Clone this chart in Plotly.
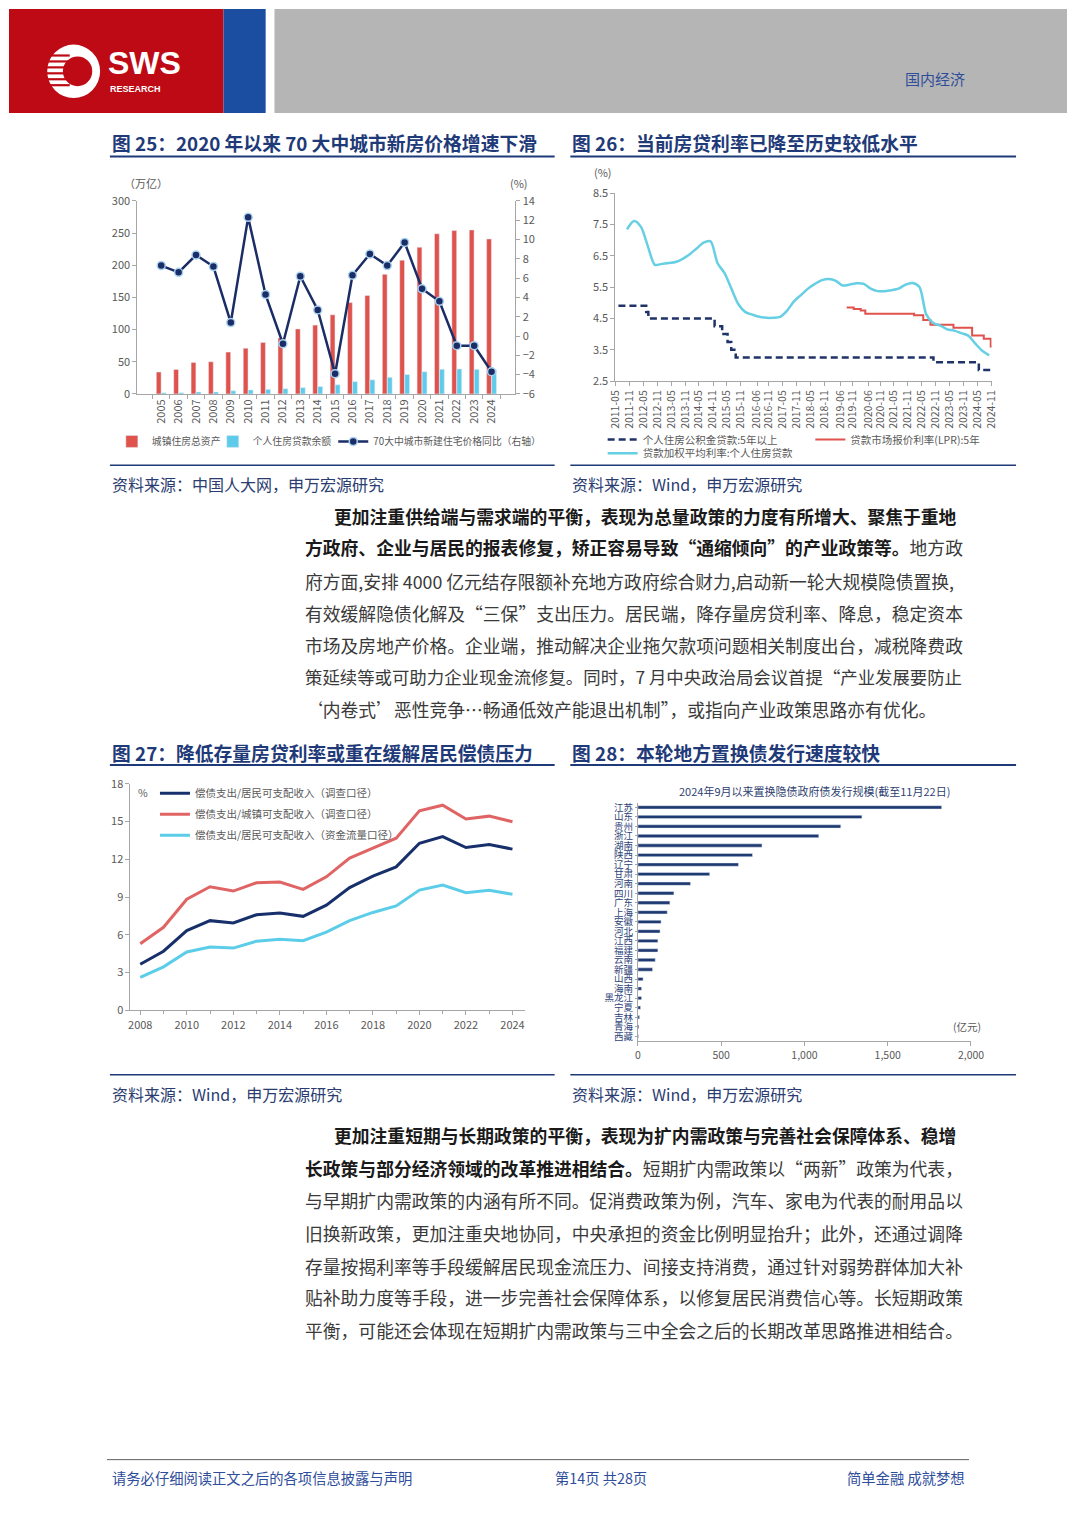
import plotly.graph_objects as go

W, H = 1080, 1527
def px(x):
    return x / W
def py(y):
    return 1 - y / H

CJK = "Noto Sans CJK SC"
TXT = "#404040"
AX = "#A6A6A6"
TICK = "#595959"

# ---------------- Chart 25 data ----------------
years25 = ["2005", "2006", "2007", "2008", "2009", "2010", "2011", "2012", "2013", "2014",
           "2015", "2016", "2017", "2018", "2019", "2020", "2021", "2022", "2023", "2024"]
urban_assets = [34, 38, 49, 50, 65, 71, 80, 87, 101, 107, 123, 142, 153, 186, 208, 228, 249, 254, 255, 241]
mortgage_bal = [1.8, 2.0, 3.0, 3.0, 4.8, 6.2, 7.1, 8.1, 9.8, 11.5, 14.2, 19.1, 21.9, 25.8, 30.1, 34.5, 38.3, 38.8, 38.2, 37.7]
price_yoy = [7.3, 6.6, 8.4, 7.2, 1.4, 12.3, 4.3, -0.8, 6.2, 2.7, -3.9, 6.3, 8.5, 7.3, 9.7, 4.9, 3.6, -1.0, -1.0, -3.7]

# ---------------- Chart 26 data ----------------
ticks26 = ["2011-05", "2011-11", "2012-05", "2012-11", "2013-05", "2013-11", "2014-05", "2014-11",
           "2015-05", "2015-11", "2016-06", "2016-11", "2017-05", "2017-11", "2018-05", "2018-11",
           "2019-06", "2019-11", "2020-06", "2020-11", "2021-05", "2021-11", "2022-05", "2022-11",
           "2023-05", "2023-11", "2024-05", "2024-11"]
hpf_dates = ["2011-06-10", "2012-06-08", "2012-07-06", "2014-11-22", "2015-03-01", "2015-05-11",
             "2015-06-28", "2015-08-26", "2022-10-01", "2024-05-18", "2024-11-25"]
hpf_rate = [4.90, 4.70, 4.50, 4.25, 4.00, 3.75, 3.50, 3.25, 3.10, 2.85, 2.85]
lpr_dates = ["2019-08-20", "2019-11-20", "2020-02-20", "2020-04-20", "2022-01-20", "2022-05-20",
             "2022-08-22", "2023-06-20", "2024-02-20", "2024-07-22", "2024-10-21", "2024-11-25"]
lpr_rate = [4.85, 4.80, 4.75, 4.65, 4.60, 4.45, 4.30, 4.20, 3.95, 3.85, 3.60, 3.60]
wavg_dates = ["2011-09-30", "2011-12-31", "2012-03-31", "2012-06-30", "2012-09-30", "2012-12-31",
              "2013-03-31", "2013-06-30", "2013-09-30", "2013-12-31", "2014-03-31", "2014-06-30",
              "2014-09-30", "2014-12-31", "2015-03-31", "2015-06-30", "2015-09-30", "2015-12-31",
              "2016-03-31", "2016-06-30", "2016-09-30", "2016-12-31", "2017-03-31", "2017-06-30",
              "2017-09-30", "2017-12-31", "2018-03-31", "2018-06-30", "2018-09-30", "2018-12-31",
              "2019-03-31", "2019-06-30", "2019-09-30", "2019-12-31", "2020-03-31", "2020-06-30",
              "2020-09-30", "2020-12-31", "2021-03-31", "2021-06-30", "2021-09-30", "2021-12-31",
              "2022-03-31", "2022-06-30", "2022-09-30", "2022-12-31", "2023-03-31", "2023-06-30",
              "2023-09-30", "2023-12-31", "2024-03-31", "2024-06-30", "2024-09-30"]
wavg_rate = [7.34, 7.61, 7.42, 6.80, 6.21, 6.24, 6.27, 6.30, 6.40, 6.55, 6.73, 6.92,
             6.96, 6.26, 5.95, 5.45, 4.95, 4.70, 4.62, 4.55, 4.52, 4.52, 4.55, 4.75,
             5.05, 5.25, 5.45, 5.60, 5.72, 5.76, 5.70, 5.55, 5.58, 5.62, 5.60, 5.45,
             5.37, 5.37, 5.40, 5.45, 5.58, 5.63, 5.50, 4.62, 4.35, 4.27, 4.15, 4.11,
             4.03, 3.95, 3.70, 3.47, 3.32]

# ---------------- Chart 27 data ----------------
years27 = [2008, 2009, 2010, 2011, 2012, 2013, 2014, 2015, 2016, 2017, 2018, 2019, 2020, 2021, 2022, 2023, 2024]
debt_res_survey = [3.67, 4.70, 6.34, 7.13, 6.94, 7.60, 7.73, 7.47, 8.36, 9.75, 10.66, 11.40, 13.28, 13.80, 12.94, 13.18, 12.81]
debt_urban_survey = [5.29, 6.60, 8.83, 9.82, 9.48, 10.14, 10.19, 9.61, 10.61, 12.10, 12.89, 13.68, 15.85, 16.30, 15.20, 15.43, 14.99]
debt_res_flow = [2.62, 3.46, 4.64, 5.03, 4.95, 5.50, 5.66, 5.53, 6.21, 7.13, 7.78, 8.30, 9.56, 9.96, 9.35, 9.54, 9.22]
ticks27 = [2008, 2010, 2012, 2014, 2016, 2018, 2020, 2022, 2024]

# ---------------- Chart 28 data ----------------
provinces = ["江苏", "山东", "贵州", "浙江", "湖南", "陕西", "辽宁", "甘肃", "河南", "四川", "广东", "上海",
             "安徽", "河北", "江西", "福建", "云南", "新疆", "山西", "海南", "黑龙江", "宁夏", "吉林", "青海", "西藏"]
swap_bonds = [1824, 1345, 1218, 1086, 745, 688, 604, 431, 316, 216, 192, 176,
              139, 133, 120, 120, 104, 88, 31, 22, 22, 16, 10, 6, 4]

fig = go.Figure()

# ---- Chart 25 traces
fig.add_trace(go.Bar(x=years25, y=urban_assets, name="城镇住房总资产", marker_color="#E0524C",
                     xaxis="x", yaxis="y", legend="legend"))
fig.add_trace(go.Bar(x=years25, y=mortgage_bal, name="个人住房贷款余额", marker_color="#5FCBEA",
                     xaxis="x", yaxis="y", legend="legend5"))
fig.add_trace(go.Scatter(x=years25, y=price_yoy, name="70大中城市新建住宅价格同比（右轴）",
                         mode="lines+markers", line=dict(color="#1B2D66", width=2.5),
                         marker=dict(symbol="circle", size=8, color="#1B2D66",
                                     line=dict(color="#A9D2F0", width=1.5)),
                         xaxis="x", yaxis="y2", legend="legend6"))

# ---- Chart 26 traces
fig.add_trace(go.Scatter(x=hpf_dates, y=hpf_rate, name="个人住房公积金贷款:5年以上", mode="lines",
                         line=dict(color="#1F3368", width=2.5, dash="7px,4px", shape="hv"),
                         xaxis="x2", yaxis="y3", legend="legend2"))
fig.add_trace(go.Scatter(x=lpr_dates, y=lpr_rate, name="贷款市场报价利率(LPR):5年", mode="lines",
                         line=dict(color="#E0524C", width=2, shape="hv"),
                         xaxis="x2", yaxis="y3", legend="legend3"))
fig.add_trace(go.Scatter(x=wavg_dates, y=wavg_rate, name="贷款加权平均利率:个人住房贷款", mode="lines",
                         line=dict(color="#66CFE3", width=2.5, shape="spline", smoothing=0.8),
                         xaxis="x2", yaxis="y3", legend="legend4"))

# ---- Chart 27 traces
fig.add_trace(go.Scatter(x=years27, y=debt_res_survey, name="偿债支出/居民可支配收入（调查口径）",
                         mode="lines", line=dict(color="#17306B", width=3), legendgroup="a",
                         xaxis="x3", yaxis="y4", legend="legend7"))
fig.add_trace(go.Scatter(x=years27, y=debt_urban_survey, name="偿债支出/城镇可支配收入（调查口径）",
                         mode="lines", line=dict(color="#E06464", width=3), legendgroup="b",
                         xaxis="x3", yaxis="y4", legend="legend7"))
fig.add_trace(go.Scatter(x=years27, y=debt_res_flow, name="偿债支出/居民可支配收入（资金流量口径）",
                         mode="lines", line=dict(color="#5CCDE8", width=3), legendgroup="c",
                         xaxis="x3", yaxis="y4", legend="legend7"))

# ---- Chart 28 trace
fig.add_trace(go.Bar(x=swap_bonds, y=provinces, orientation="h", marker_color="#1F3A70",
                     width=0.35, showlegend=False, xaxis="x4", yaxis="y5"))

axis_common = dict(showline=True, linecolor=AX, linewidth=1, showgrid=False, zeroline=False,
                   ticks="outside", ticklen=4, tickcolor=AX,
                   tickfont=dict(family=CJK, size=11, color=TICK))

def leg(x, y, size=10.5, orient="h", gap=0):
    return dict(x=px(x), y=py(y), xanchor="left", yanchor="middle", orientation=orient,
                font=dict(family=CJK, size=size, color=TICK), bgcolor="rgba(0,0,0,0)",
                itemwidth=30, tracegroupgap=gap, itemclick=False, itemdoubleclick=False)

fig.update_layout(
    width=W, height=H, margin=dict(l=0, r=0, t=0, b=0),
    paper_bgcolor="white", plot_bgcolor="white",
    barmode="group", bargap=0.42, bargroupgap=0.05,
    font=dict(family=CJK, color=TXT),
    xaxis=dict(domain=[px(131), px(517)], anchor="y", type="category", tickangle=-90,
               tickson="boundaries", **axis_common),
    yaxis=dict(domain=[py(389), py(194)], anchor="x", range=[0, 300], dtick=50, **axis_common),
    yaxis2=dict(overlaying="y", side="right", anchor="x", range=[-6, 14], dtick=2, **axis_common),
    xaxis2=dict(domain=[px(619), px(1003)], anchor="y3", type="date",
                range=["2011-05-01", "2024-11-01"], tickmode="array",
                tickvals=[t + "-01" for t in ticks26], ticktext=ticks26, tickangle=-90,
                **{**axis_common, "tickfont": dict(family=CJK, size=10.5, color=TICK)}),
    yaxis3=dict(domain=[py(376), py(186)], anchor="x2", range=[2.5, 8.5], tick0=2.5, dtick=1,
                tickformat=".1f", **axis_common),
    xaxis3=dict(domain=[px(124), px(527)], anchor="y4", range=[2007.58, 2024.55],
                tickmode="array", tickvals=ticks27, ticktext=[str(t) for t in ticks27],
                minor=dict(dtick=1, ticks="outside", ticklen=3, tickcolor=AX), **axis_common),
    yaxis4=dict(domain=[py(1012), py(783)], anchor="x3", range=[0, 18], dtick=3, **axis_common),
    xaxis4=dict(domain=[px(642), px(982)], anchor="y5", range=[0, 2000], dtick=500,
                tickformat=",", **{**axis_common, "tickfont": dict(family=CJK, size=10.5, color=TICK)}),
    yaxis5=dict(domain=[py(1043), py(802)], anchor="x4", type="category",
                categoryorder="array", categoryarray=provinces, autorange="reversed",
                tickmode="array", tickvals=provinces, ticktext=provinces, tickangle=0,
                **{**axis_common, "ticklen": 2,
                   "tickfont": dict(family=CJK, size=9.5, color="#2E4478")}),
    legend=leg(105, 437, size=9.8),
    legend5=leg(208, 437, size=9.8),
    legend6=leg(331, 437, size=9.8),
    legend2=leg(606, 435),
    legend3=leg(818, 435),
    legend4=leg(606, 449),
    legend7=dict(x=px(149), y=py(778), xanchor="left", yanchor="top", orientation="v",
                 font=dict(family=CJK, size=10.5, color=TICK), bgcolor="rgba(0,0,0,0)",
                 itemwidth=30, tracegroupgap=2, itemclick=False, itemdoubleclick=False),
)

shapes = []
ann = []

def rect(x0, y0, x1, y1, color):
    shapes.append(dict(type="rect", xref="paper", yref="paper", x0=px(x0), x1=px(x1),
                       y0=py(y1), y1=py(y0), fillcolor=color, line=dict(width=0), layer="below"))

def hline(x0, x1, y, color, width):
    shapes.append(dict(type="line", xref="paper", yref="paper", x0=px(x0), x1=px(x1),
                       y0=py(y), y1=py(y), line=dict(color=color, width=width)))

def text(x, y, s, size, color, anchor="left", family=CJK, yanchor="middle"):
    ann.append(dict(xref="paper", yref="paper", x=px(x), y=py(y), text=s, showarrow=False,
                    xanchor=anchor, yanchor=yanchor, font=dict(family=family, size=size, color=color)))

# ---------------- Header ----------------
rect(0, 0, 219, 105, "#BE0A14")
rect(219, 0, 262, 105, "#1B4EA0")
rect(271, 0, 1080, 105, "#B5B5B5")
# logo
shapes.append(dict(type="circle", xref="paper", yref="paper", x0=px(39), x1=px(93), y0=py(90), y1=py(36),
                   fillcolor="white", line=dict(width=0)))
shapes.append(dict(type="circle", xref="paper", yref="paper", x0=px(55), x1=px(85), y0=py(78), y1=py(48),
                   fillcolor="#BE0A14", line=dict(width=0)))
for yy in [47, 53, 59, 65, 71, 77]:
    hline(38, 62, yy, "#BE0A14", 2.2)
rect(60, 56, 72, 68, "white")
text(99, 55, "<b>SWS</b>", 32, "white", family="Liberation Sans")
text(101, 81, "<b>RESEARCH</b>", 9, "white", family="Liberation Sans")
text(978, 70, "国内经济", 15, "#2E4D9B", anchor="right")

# ---------------- Titles ----------------
TITLE_C = "#1F3A78"
TS = 18.8
text(103, 135, "<b>图 25：2020 年以来 70 大中城市新房价格增速下滑</b>", TS, TITLE_C)
text(573, 135, "<b>图 26：当前房贷利率已降至历史较低水平</b>", TS, TITLE_C)
hline(103, 557, 149, TITLE_C, 2)
hline(573, 1028, 149, TITLE_C, 2)
text(103, 751, "<b>图 27：降低存量房贷利率或重在缓解居民偿债压力</b>", TS, TITLE_C)
text(573, 751, "<b>图 28：本轮地方置换债发行速度较快</b>", TS, TITLE_C)
hline(103, 557, 764, TITLE_C, 2)
hline(573, 1028, 764, TITLE_C, 2)

# bottom rules + sources
hline(103, 557, 461, TITLE_C, 1.5)
hline(573, 1028, 461, TITLE_C, 1.5)
hline(103, 557, 1077, TITLE_C, 1.5)
hline(573, 1028, 1077, TITLE_C, 1.5)
SRC_C = "#2A3C70"
text(103, 480, "资料来源：中国人大网，申万宏源研究", 16, SRC_C)
text(573, 480, "资料来源：Wind，申万宏源研究", 16, SRC_C)
text(103, 1096, "资料来源：Wind，申万宏源研究", 16, SRC_C)
text(573, 1096, "资料来源：Wind，申万宏源研究", 16, SRC_C)

# chart unit labels
text(140, 176, "（万亿）", 11, TICK, anchor="center")
text(521, 176, "(%)", 11, TICK, anchor="center")
text(606, 165, "(%)", 11, TICK, anchor="center")
text(137, 792, "%", 10.5, TICK, anchor="center")
text(822, 790, "2024年9月以来置换隐债政府债发行规模(截至11月22日)", 11, "#2E3F70", anchor="center")
text(978, 1028, "(亿元)", 10.5, TICK, anchor="center")

# ---------------- Paragraphs ----------------
BODY = "#3A3A3A"
BOLD = "#1A1A1A"
FS = 17.8
def b(s):
    return "<b><span style='color:%s'>%s</span></b>" % (BOLD, s)

para1 = [
    (330, 512, b("更加注重供给端与需求端的平衡，表现为总量政策的力度有所增大、聚焦于重地"), FS),
    (300, 544, b("方政府、企业与居民的报表修复，矫正容易导致“通缩倾向”的产业政策等。") + "地方政", FS),
    (300, 578, "府方面,安排 4000 亿元结存限额补充地方政府综合财力,启动新一轮大规模隐债置换,", FS),
    (300, 610, "有效缓解隐债化解及“三保”支出压力。居民端，降存量房贷利率、降息，稳定资本", FS),
    (300, 643, "市场及房地产价格。企业端，推动解决企业拖欠款项问题相关制度出台，减税降费政", FS),
    (300, 675, "策延续等或可助力企业现金流修复。同时，7 月中央政治局会议首提“产业发展要防止", 17.4),
    (300, 707, "‘内卷式’恶性竞争…畅通低效产能退出机制”，或指向产业政策思路亦有优化。", FS),
]
para2 = [
    (330, 1138, b("更加注重短期与长期政策的平衡，表现为扩内需政策与完善社会保障体系、稳增"), FS),
    (300, 1171, b("长政策与部分经济领域的改革推进相结合。") + "短期扩内需政策以“两新”政策为代表，", FS),
    (300, 1204, "与早期扩内需政策的内涵有所不同。促消费政策为例，汽车、家电为代表的耐用品以", FS),
    (300, 1237, "旧换新政策，更加注重央地协同，中央承担的资金比例明显抬升；此外，还通过调降", FS),
    (300, 1270, "存量按揭利率等手段缓解居民现金流压力、间接支持消费，通过针对弱势群体加大补", FS),
    (300, 1302, "贴补助力度等手段，进一步完善社会保障体系，以修复居民消费信心等。长短期政策", FS),
    (300, 1335, "平衡，可能还会体现在短期扩内需政策与三中全会之后的长期改革思路推进相结合。", FS),
]
for x, y, s, fs in para1 + para2:
    text(x, y, s, fs, BODY)

# ---------------- Footer ----------------
hline(100, 980, 1466, "#606060", 1)
FOOT = "#2E4D9B"
text(103, 1484, "请务必仔细阅读正文之后的各项信息披露与声明", 14.3, FOOT)
text(604, 1484, "第14页 共28页", 14.3, FOOT, anchor="center")
text(978, 1484, "简单金融 成就梦想", 14.3, FOOT, anchor="right")

fig.update_layout(shapes=shapes, annotations=ann)
fig.write_html(
    "out.html",
    config={"displayModeBar": False},
    post_script="document.body.style.margin='0';document.body.style.padding='0';"
                "document.documentElement.style.overflow='hidden';document.body.style.overflow='hidden';",
)
